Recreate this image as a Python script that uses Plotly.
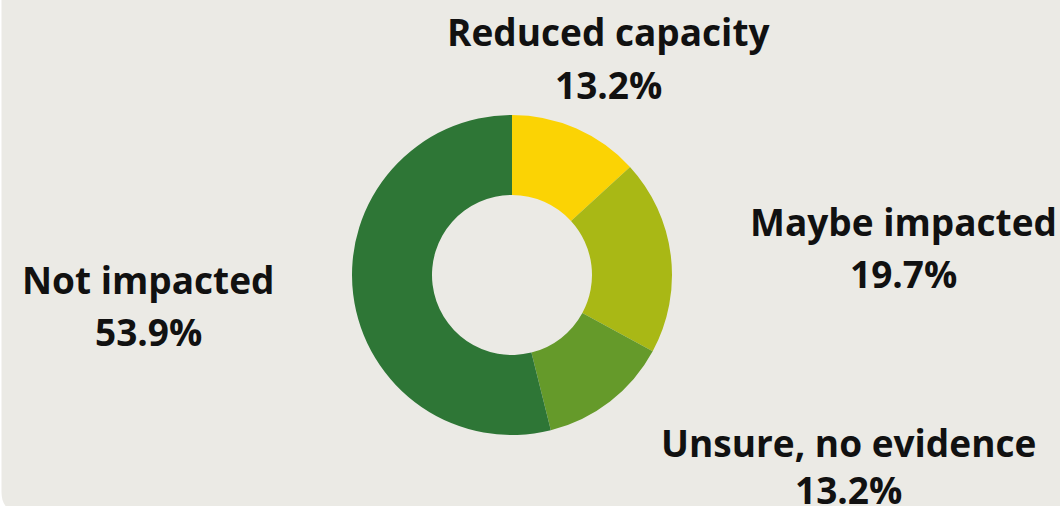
import plotly.graph_objects as go

categories = ["Reduced capacity", "Maybe impacted", "Unsure, no evidence", "Not impacted"]
values = [13.2, 19.7, 13.2, 53.9]
colors = ["#FBD304", "#A9B815", "#659A2A", "#2E7636"]

W, H = 1060, 506
BG = "#EBEAE5"
FS = 37

# label centres (px) : name baseline, pct baseline
label_pos = {
    "Reduced capacity": (608, 45, 98),
    "Maybe impacted": (903, 235, 287),
    "Unsure, no evidence": (848, 456, 503),
    "Not impacted": (148, 293, 345),
}

cx, cy, r = 512, 275, 160

fig = go.Figure()
fig.add_trace(go.Pie(
    labels=categories,
    values=values,
    marker=dict(colors=colors, line=dict(width=0)),
    hole=0.5,
    sort=False,
    direction="clockwise",
    rotation=0,
    textinfo="none",
    hoverinfo="label+percent",
    showlegend=False,
    domain=dict(x=[(cx - r) / W, (cx + r) / W], y=[1 - (cy + r) / H, 1 - (cy - r) / H]),
))

font = dict(family="Open Sans", size=FS, color="#111111")
annotations = []
for cat, val in zip(categories, values):
    x, b1, b2 = label_pos[cat]
    for txt, b in ((cat, b1), (f"{val:.1f}%", b2)):
        annotations.append(dict(
            text=f"<b>{txt}</b>", x=x / W, y=1 - (b - 0.44 * FS + 3) / H,
            xref="paper", yref="paper", xanchor="center", yanchor="middle",
            showarrow=False, font=font,
        ))

# rounded card background (bottom-left corner visible)
x0, yb, rad = 1.5, 512, 20
def px(x):
    return x / W
def py(y):
    return 1 - y / H
path = (f"M {px(x0)},{py(-10)} L {px(W + 10)},{py(-10)} L {px(W + 10)},{py(yb)} "
        f"L {px(x0 + rad)},{py(yb)} Q {px(x0)},{py(yb)} {px(x0)},{py(yb - rad)} Z")

fig.update_layout(
    width=W, height=H,
    margin=dict(l=0, r=0, t=0, b=0),
    paper_bgcolor="#FFFFFF",
    plot_bgcolor=BG,
    annotations=annotations,
    shapes=[dict(type="path", path=path, xref="paper", yref="paper",
                 fillcolor=BG, line=dict(width=0), layer="below")],
)

fig.write_html("out.html", config={"displayModeBar": False},
               post_script="document.body.style.margin='0';document.body.style.overflow='hidden';")
